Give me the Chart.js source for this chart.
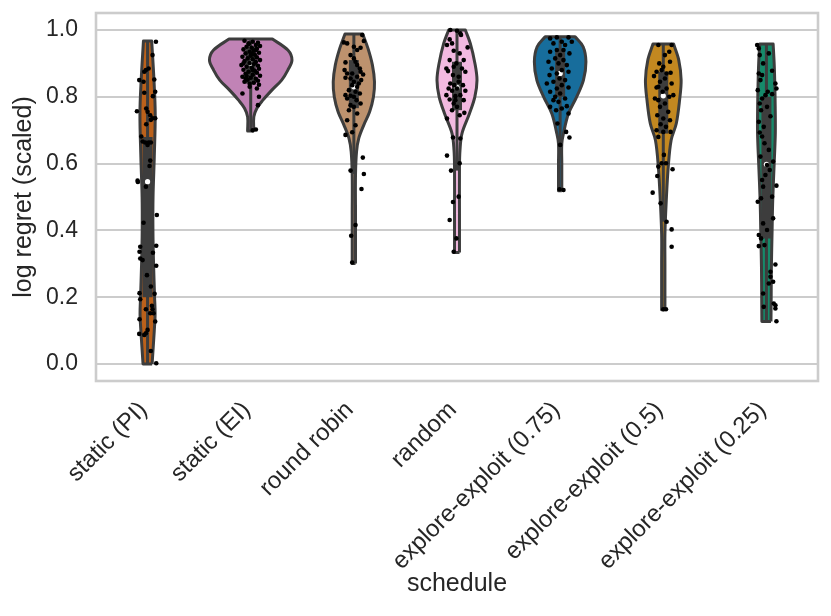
<!DOCTYPE html>
<html>
<head>
<meta charset="utf-8">
<script src="https://cdn.jsdelivr.net/npm/chart.js@4.4.1/dist/chart.umd.min.js"></script>
<style>
html, body { margin: 0; padding: 0; background: #fff; }
#wrap { width: 831px; height: 616px; }
</style>
</head>
<body>
<div id="wrap"><canvas id="violins" width="831" height="616"></canvas></div>
<script>
// ---------------------------------------------------------
// Data
// ---------------------------------------------------------
const categories = ["static (PI)", "static (EI)", "round robin", "random",
    "explore-exploit (0.75)", "explore-exploit (0.5)", "explore-exploit (0.25)"];

const yTicks = [0.0, 0.2, 0.4, 0.6, 0.8, 1.0];

// violin outline: y levels (bottom -> top) and half width (category units)
const violinLevels = [
    [0.0, 0.1, 0.15, 0.2, 0.3, 0.4, 0.5, 0.62, 0.75, 0.85, 0.967],
    [0.698, 0.74, 0.766, 0.79, 0.82, 0.85, 0.88, 0.91, 0.94, 0.973],
    [0.301, 0.45, 0.566, 0.636, 0.676, 0.716, 0.755, 0.80, 0.845, 0.895, 0.945, 0.988],
    [0.334, 0.45, 0.59, 0.64, 0.69, 0.75, 0.80, 0.85, 0.90, 0.96, 1.0],
    [0.519, 0.6, 0.66, 0.69, 0.75, 0.80, 0.85, 0.905, 0.95, 0.98],
    [0.162, 0.3, 0.39, 0.49, 0.59, 0.67, 0.72, 0.79, 0.85, 0.91, 0.958],
    [0.127, 0.2, 0.29, 0.4, 0.49, 0.6, 0.69, 0.77, 0.84, 0.9, 0.958]
];
const violinHalfWidths = [
    [0.044, 0.065, 0.073, 0.068, 0.058, 0.052, 0.053, 0.065, 0.074, 0.062, 0.040],
    [0.03, 0.03, 0.06, 0.118, 0.205, 0.30, 0.36, 0.40, 0.36, 0.21],
    [0.016, 0.016, 0.016, 0.026, 0.048, 0.097, 0.153, 0.19, 0.20, 0.18, 0.137, 0.086],
    [0.024, 0.024, 0.024, 0.029, 0.048, 0.121, 0.173, 0.194, 0.174, 0.129, 0.081],
    [0.016, 0.016, 0.016, 0.032, 0.081, 0.16, 0.226, 0.25, 0.223, 0.145],
    [0.016, 0.016, 0.016, 0.029, 0.048, 0.076, 0.126, 0.158, 0.173, 0.15, 0.10],
    [0.044, 0.046, 0.048, 0.055, 0.061, 0.075, 0.086, 0.085, 0.081, 0.075, 0.065]
];

// inner box
const q1 = [0.20, 0.84, 0.766, 0.76, 0.80, 0.69, 0.376];
const q3 = [0.68, 0.95, 0.91, 0.905, 0.94, 0.875, 0.80];
const medians = [0.546, 0.90, 0.83, 0.828, 0.87, 0.803, 0.598];
const whiskerLow = [0.0, 0.70, 0.569, 0.579, 0.656, 0.426, 0.127];
const whiskerHigh = [0.967, 0.97, 0.988, 1.0, 0.98, 0.958, 0.958];

// strip points: [jitter, value]
const stripPI = [[0.081,0.965],[0.048,0.925],[0.010,0.885],[-0.016,0.880],[-0.032,0.875],[-0.081,0.850],
    [-0.039,0.845],[0.065,0.852],[-0.032,0.812],[0.074,0.815],[0.052,0.802],[-0.103,0.757],[-0.013,0.765],
    [0.0,0.755],[0.026,0.745],[0.048,0.736],[0.032,0.731],[0.074,0.736],[-0.013,0.718],[-0.061,0.681],
    [-0.048,0.666],[-0.023,0.663],[0.010,0.663],[0.032,0.663],[0.0,0.656],[0.026,0.609],[0.019,0.593],
    [-0.097,0.549],[-0.094,0.545],[-0.016,0.531],[0.090,0.446],[-0.039,0.423],[-0.071,0.351],[0.084,0.354],
    [-0.078,0.336],[0.052,0.333],[-0.071,0.316],[-0.048,0.311],[0.084,0.294],[-0.006,0.266],[0.032,0.232],
    [-0.078,0.212],[0.068,0.210],[-0.071,0.194],[0.042,0.174],[0.048,0.164],[0.058,0.152],[-0.016,0.164],
    [0.026,0.152],[0.074,0.127],[-0.078,0.134],[-0.081,0.090],[-0.032,0.087],[-0.016,0.092],[0.0,0.102],
    [0.032,0.039],[0.084,0.002]];
const stripEI = [[-0.06,0.968],[0.02,0.965],[0.07,0.962],[-0.02,0.958],[0.05,0.955],[0.09,0.952],[-0.04,0.950],
    [0.01,0.947],[0.06,0.944],[-0.07,0.942],[0.03,0.938],[-0.01,0.935],[0.08,0.932],[-0.05,0.930],[0.04,0.926],
    [0.00,0.923],[-0.08,0.920],[0.06,0.918],[-0.03,0.915],[0.02,0.912],[0.09,0.910],[-0.06,0.907],[0.05,0.904],
    [-0.01,0.901],[0.03,0.898],[-0.09,0.895],[0.07,0.893],[-0.04,0.890],[0.01,0.887],[0.08,0.884],[-0.07,0.881],
    [0.04,0.878],[-0.02,0.875],[0.06,0.872],[-0.05,0.869],[0.02,0.866],[0.09,0.863],[-0.08,0.860],[0.00,0.857],
    [0.05,0.854],[-0.03,0.851],[0.07,0.848],[-0.06,0.845],[0.03,0.842],[-0.01,0.839],[0.08,0.836],[-0.04,0.862],
    [0.01,0.928],[-0.07,0.900],[0.05,0.940],[0.02,0.880],[-0.02,0.960],[-0.08,0.810],[0.08,0.800],[0.07,0.775],
    [0.02,0.700],[0.05,0.702],[-0.01,0.830],[0.06,0.825],[-0.05,0.855]];
const stripRR = [[-0.097,0.963],[-0.065,0.960],[0,0.950],[0.065,0.947],[0.097,0.967],[0.081,0.985],[0.032,0.940],
    [-0.032,0.925],[0,0.915],[0.016,0.905],[-0.081,0.903],[0.032,0.895],[0.058,0.885],[-0.090,0.880],[0.065,0.875],
    [-0.065,0.870],[-0.016,0.870],[0.090,0.867],[0.032,0.860],[-0.081,0.857],[-0.032,0.855],[0.071,0.850],
    [0,0.845],[0.048,0.840],[-0.016,0.835],[0.032,0.830],[-0.048,0.820],[0.016,0.815],[0.058,0.810],[-0.081,0.805],
    [-0.032,0.803],[0,0.800],[-0.065,0.795],[0.026,0.790],[0.065,0.780],[-0.032,0.775],[0,0.770],[-0.048,0.760],
    [0.032,0.750],[-0.065,0.730],[0.016,0.715],[-0.081,0.686],[-0.016,0.694],[0.087,0.618],[-0.032,0.579],
    [0.097,0.569],[0.074,0.524],[0.016,0.416],[-0.026,0.384],[-0.016,0.304]];
const stripRandom = [[-0.065,1.0],[0,0.998],[0.032,0.990],[-0.071,0.972],[0.039,0.985],[-0.048,0.960],[0.103,0.948],
    [-0.097,0.955],[-0.032,0.938],[0.026,0.930],[-0.071,0.910],[0.065,0.910],[-0.006,0.900],[-0.103,0.885],
    [-0.032,0.890],[0.048,0.885],[-0.087,0.877],[0.081,0.875],[-0.039,0.865],[0.016,0.860],[-0.065,0.840],
    [-0.026,0.835],[0.058,0.835],[-0.081,0.825],[0,0.825],[-0.048,0.818],[0.081,0.818],[-0.103,0.805],
    [-0.016,0.802],[0.032,0.805],[-0.071,0.792],[0.065,0.790],[-0.032,0.780],[0,0.770],[-0.048,0.760],
    [0.071,0.752],[0.026,0.745],[-0.097,0.735],[-0.016,0.790],[-0.039,0.678],[0.032,0.675],[-0.097,0.624],
    [0.026,0.601],[-0.058,0.579],[0.016,0.501],[-0.039,0.485],[-0.071,0.431],[-0.006,0.376],[-0.032,0.336],
    [0.016,0.845]];
const stripEE75 = [[-0.097,0.975],[-0.032,0.978],[0.081,0.978],[0.016,0.965],[-0.065,0.960],[0.048,0.955],
    [-0.032,0.940],[-0.097,0.935],[0.090,0.930],[0,0.925],[-0.048,0.915],[0.032,0.910],[-0.113,0.905],
    [-0.016,0.900],[0.065,0.895],[-0.081,0.885],[0.016,0.880],[-0.032,0.870],[0.081,0.875],[-0.103,0.865],
    [-0.006,0.855],[0.048,0.850],[-0.065,0.845],[-0.129,0.840],[0.016,0.835],[-0.032,0.825],[0.081,0.828],
    [-0.097,0.815],[0,0.810],[-0.048,0.800],[0.048,0.795],[-0.016,0.785],[-0.097,0.770],[0.065,0.772],
    [0.016,0.765],[-0.039,0.760],[0.081,0.750],[-0.026,0.720],[0.058,0.695],[0.090,0.678],[0,0.656],
    [0.032,0.521],[-0.006,0.523],[-0.065,0.790],[0.032,0.940],[0.113,0.965]];
const stripEE50 = [[-0.048,0.955],[0.081,0.955],[0.058,0.935],[0.016,0.925],[-0.039,0.900],[0.065,0.905],
    [0,0.890],[-0.016,0.880],[-0.065,0.875],[0.032,0.870],[0.071,0.872],[-0.090,0.862],[0.016,0.855],
    [-0.032,0.845],[0.081,0.840],[-0.065,0.828],[0.032,0.825],[-0.006,0.815],[-0.081,0.795],[0.058,0.800],
    [-0.048,0.790],[0.016,0.780],[0.097,0.805],[-0.032,0.770],[0.048,0.755],[-0.058,0.745],[0,0.735],
    [0.065,0.730],[-0.026,0.718],[0.026,0.710],[-0.065,0.700],[0,0.695],[0.071,0.695],[-0.048,0.680],
    [0.006,0.626],[-0.016,0.601],[0.026,0.601],[-0.048,0.591],[0.090,0.583],[-0.058,0.563],[-0.103,0.513],
    [-0.026,0.481],[0.032,0.426],[0.081,0.403],[0.081,0.351],[0,0.164],[0.026,0.164],[-0.048,0.830]];
const stripEE25 = [[-0.090,0.955],[-0.074,0.945],[-0.065,0.925],[0.023,0.930],[-0.032,0.900],[0.055,0.878],
    [-0.074,0.870],[-0.042,0.865],[-0.058,0.850],[0.087,0.840],[0.097,0.825],[-0.084,0.820],[0.013,0.815],
    [0.055,0.808],[-0.042,0.795],[-0.065,0.780],[0.006,0.770],[-0.052,0.760],[0.039,0.742],[-0.074,0.725],
    [-0.026,0.710],[-0.065,0.693],[-0.042,0.681],[-0.019,0.661],[0.023,0.641],[-0.058,0.621],[0.065,0.606],
    [0.006,0.596],[0.032,0.581],[-0.010,0.566],[-0.042,0.551],[0.097,0.534],[-0.032,0.531],[0.055,0.501],
    [-0.052,0.496],[-0.084,0.486],[0.065,0.436],[-0.032,0.421],[-0.074,0.386],[-0.052,0.376],[-0.019,0.356],
    [-0.074,0.353],[0.087,0.298],[0.039,0.276],[0.039,0.261],[0.023,0.241],[0.065,0.246],[-0.032,0.211],
    [0.071,0.181],[0.087,0.176],[-0.026,0.171],[0.087,0.166],[0.097,0.128],[-0.010,0.805],[0.006,0.401]];
const stripPoints = [stripPI, stripEI, stripRR, stripRandom, stripEE75, stripEE50, stripEE25];

// ---------------------------------------------------------
// Styles
// ---------------------------------------------------------
const violinColors = ["#bb611b", "#c183b6", "#bd926e", "#f2b9e0", "#176d9c", "#c38820", "#168a6a"];
const lineGray = "#3d3d3d";
const textColor = "#262626";
const gridColor = "#cccccc";
const FONT = "'Liberation Sans', Arial, Helvetica, sans-serif";

// outline: right side up, across the flat top, left side down, across the flat bottom
// corners doubled so the spline keeps them sharp
function violinOutline(i) {
    const ys = violinLevels[i], hw = violinHalfWidths[i];
    const right = ys.map((y, k) => ({ x: i + hw[k], y }));
    const left = ys.map((y, k) => ({ x: i - hw[k], y })).reverse();
    const n = right.length;
    return [right[0], right[0], ...right.slice(1), right[n - 1],
            left[0], ...left, left[n - 1], right[0]];
}

const datasets = [];

categories.forEach((cat, i) => {
    // strip points (drawn on top)
    datasets.push({
        type: "scatter",
        data: stripPoints[i].map(p => ({ x: i + p[0], y: p[1] })),
        pointRadius: 2.3,
        pointBackgroundColor: "#000",
        pointBorderWidth: 0,
        order: 0
    });
    // median
    datasets.push({
        type: "scatter",
        data: [{ x: i, y: medians[i] }],
        pointRadius: 2.6,
        pointBackgroundColor: "#ffffff",
        pointBorderWidth: 0,
        order: 1
    });
    // box Q1..Q3
    datasets.push({
        type: "scatter",
        data: [{ x: i, y: q1[i] }, { x: i, y: q3[i] }],
        showLine: true,
        borderColor: lineGray,
        borderWidth: 10,
        borderCapStyle: "butt",
        pointRadius: 0,
        order: 2
    });
    // whisker
    datasets.push({
        type: "scatter",
        data: [{ x: i, y: whiskerLow[i] }, { x: i, y: whiskerHigh[i] }],
        showLine: true,
        borderColor: lineGray,
        borderWidth: 3,
        borderCapStyle: "butt",
        pointRadius: 0,
        order: 3
    });
    // violin body
    datasets.push({
        type: "scatter",
        data: violinOutline(i),
        showLine: true,
        fill: "shape",
        backgroundColor: violinColors[i],
        borderColor: lineGray,
        borderWidth: 3,
        borderJoinStyle: "round",
        tension: 0.35,
        pointRadius: 0,
        order: 4
    });
});

// light grey frame around the axes
const framePlugin = {
    id: "frame",
    beforeDatasetsDraw(chart) {
        const a = chart.chartArea, ctx = chart.ctx;
        ctx.save();
        ctx.strokeStyle = gridColor;
        ctx.lineWidth = 2.6;
        ctx.strokeRect(a.left, a.top, a.right - a.left, a.bottom - a.top);
        ctx.restore();
    }
};

new Chart(document.getElementById("violins"), {
    type: "scatter",
    data: { datasets },
    plugins: [framePlugin],
    options: {
        responsive: false,
        animation: false,
        layout: { padding: { top: 13, right: 13, left: 0, bottom: 0 } },
        plugins: {
            legend: { display: false },
            tooltip: { enabled: false },
            filler: { propagate: false }
        },
        scales: {
            x: {
                type: "linear",
                min: -0.5,
                max: 6.5,
                afterBuildTicks: s => { s.ticks = categories.map((_, i) => ({ value: i })); },
                afterFit: s => { s.height = 235; s.paddingLeft = 0; s.paddingRight = 0; },
                grid: { display: false },
                border: { display: false },
                ticks: {
                    autoSkip: false,
                    minRotation: 45,
                    maxRotation: 45,
                    padding: 7,
                    labelOffset: -4,
                    color: textColor,
                    font: { family: FONT, size: 24 },
                    callback: v => categories[v]
                },
                title: {
                    display: true,
                    text: "schedule",
                    color: textColor,
                    font: { family: FONT, size: 25 },
                    padding: { top: 0, bottom: 17 }
                }
            },
            y: {
                min: -0.051,
                max: 1.051,
                afterBuildTicks: s => { s.ticks = yTicks.map(v => ({ value: v })); },
                afterFit: s => { s.width = 96; s.paddingTop = 0; s.paddingBottom = 0; },
                grid: { color: gridColor, lineWidth: 2, drawTicks: false },
                border: { display: false },
                ticks: {
                    padding: 18,
                    color: textColor,
                    font: { family: FONT, size: 23 },
                    callback: v => v.toFixed(1)
                },
                title: {
                    display: true,
                    text: "log regret (scaled)",
                    color: textColor,
                    font: { family: FONT, size: 25 },
                    padding: { top: 9, bottom: 0 }
                }
            }
        }
    }
});
</script>
</body>
</html>
